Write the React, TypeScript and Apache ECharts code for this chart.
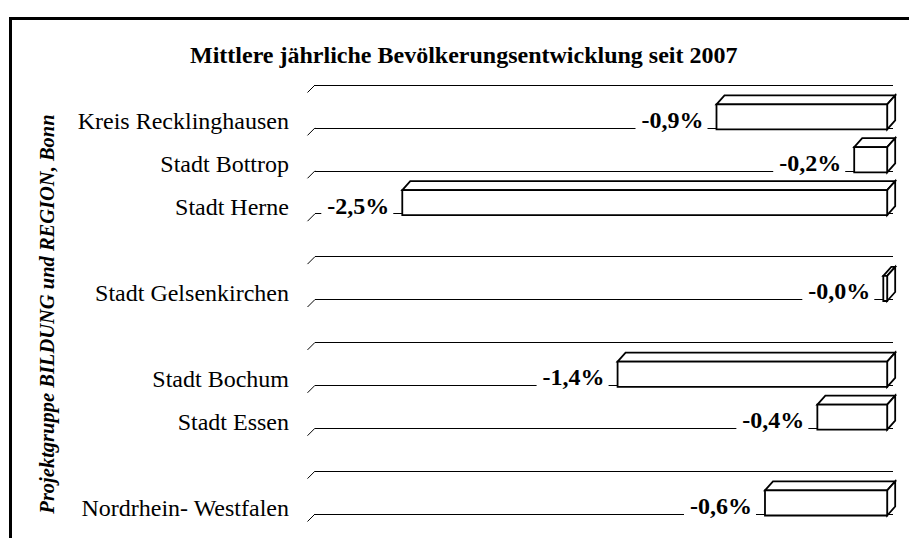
import React, { useEffect, useRef } from "react";
import * as echarts from "echarts";

const categories = [
  "Kreis Recklinghausen",
  "Stadt Bottrop",
  "Stadt Herne",
  "",
  "Stadt Gelsenkirchen",
  "",
  "Stadt Bochum",
  "Stadt Essen",
  "",
  "Nordrhein- Westfalen",
];
const values: (number | null)[] = [-0.88, -0.17, -2.5, null, -0.02, null, -1.39, -0.36, null, -0.63];
const titleText = "Mittlere jährliche Bevölkerungsentwicklung seit 2007";
const sourceText = "Projektgruppe BILDUNG und REGION, Bonn";

const FONT = "'Liberation Serif', 'Times New Roman', serif";
const X_MIN = -2.95;
const X_MAX = 0.03;

const fmt = (v: number) => v.toFixed(1).replace(".", ",") + "%";

export default function App() {
  const ref = useRef<HTMLDivElement>(null);
  useEffect(() => {
    if (!ref.current) return;
    const chart = echarts.init(ref.current, null, { renderer: "svg" });
    const barData: number[][] = [];
    values.forEach((v, i) => {
      if (v !== null) barData.push([v, i]);
    });
    const boundaryData = Array.from({ length: categories.length + 1 }, (_, i) => [
      X_MIN,
      Math.min(i, categories.length - 1),
      i === categories.length ? 1 : 0,
    ]);
    const dx = 8;
    const dy = 9;
    chart.setOption({
      animation: false,
      backgroundColor: "#fff",
      title: {
        text: titleText,
        left: 190,
        top: 43,
        padding: 0,
        textStyle: { fontFamily: FONT, fontWeight: "bold", fontSize: 24, color: "#000" },
      },
      grid: { left: 315, right: 16, top: 85, bottom: 24, containLabel: false },
      xAxis: {
        type: "value",
        min: X_MIN,
        max: X_MAX,
        show: false,
      },
      yAxis: {
        type: "category",
        inverse: true,
        data: categories,
        axisLine: { show: false },
        axisTick: { show: false },
        axisLabel: {
          margin: 26,
          fontFamily: FONT,
          fontSize: 24,
          color: "#000",
          verticalAlign: "top",
          lineHeight: 30,
        },
        splitLine: { show: true, lineStyle: { color: "#000", width: 1 } },
      },
      graphic: [
        { type: "line", shape: { x1: 9, y1: 18.5, x2: 909, y2: 18.5 }, style: { stroke: "#000", lineWidth: 3 } },
        { type: "line", shape: { x1: 10.5, y1: 17, x2: 10.5, y2: 538 }, style: { stroke: "#000", lineWidth: 3 } },
        {
          type: "text",
          x: 47,
          y: 314,
          rotation: Math.PI / 2,
          style: {
            text: sourceText,
            font: `italic bold 20.5px ${FONT}`,
            fill: "#000",
            align: "center",
            verticalAlign: "middle",
          },
        },
      ],
      series: [
        {
          type: "custom",
          name: "floor",
          data: boundaryData,
          encode: { x: 0, y: 1 },
          renderItem: (params: any, api: any) => {
            const band = api.size([0, 1])[1];
            const c = api.coord([api.value(0), api.value(1)]);
            const y = api.value(2) === 1 ? c[1] + band / 2 : c[1] - band / 2;
            return {
              type: "line",
              shape: { x1: c[0], y1: y, x2: c[0] - 7.5, y2: y + 7.5 },
              style: { stroke: "#000", lineWidth: 1 },
            };
          },
        },
        {
          type: "custom",
          name: "bars",
          data: barData,
          encode: { x: 0, y: 1 },
          renderItem: (params: any, api: any) => {
            const v = api.value(0);
            const ci = api.value(1);
            const band = api.size([0, 1])[1];
            const p0 = api.coord([0, ci]);
            const p1 = api.coord([v, ci]);
            const top = p0[1] - band / 2;
            const fy0 = top + 0.45 * band;
            const fy1 = top + band + 1.5;
            const x0 = p1[0];
            const x1 = p0[0];
            const st = { fill: "#fff", stroke: "#000", lineWidth: 1.8 };
            return {
              type: "group",
              children: [
                {
                  type: "polygon",
                  shape: { points: [[x0, fy0], [x0 + dx, fy0 - dy], [x1 + dx, fy0 - dy], [x1, fy0]] },
                  style: st,
                },
                {
                  type: "polygon",
                  shape: { points: [[x1, fy0], [x1 + dx, fy0 - dy], [x1 + dx, fy1 - dy], [x1, fy1]] },
                  style: st,
                },
                {
                  type: "rect",
                  shape: { x: x0, y: fy0, width: x1 - x0, height: fy1 - fy0 },
                  style: st,
                },
                {
                  type: "text",
                  x: x0 - 9,
                  y: (fy0 + fy1) / 2 + 3,
                  style: {
                    text: fmt(v),
                    font: `bold 24px ${FONT}`,
                    fill: "#000",
                    align: "right",
                    verticalAlign: "middle",
                    backgroundColor: "#fff",
                    padding: [0, 4, 0, 6],
                  },
                },
              ],
            };
          },
        },
      ],
    });
    return () => chart.dispose();
  }, []);
  return <div ref={ref} style={{ position: "fixed", left: 0, top: 0, width: 909, height: 538 }} />;
}
